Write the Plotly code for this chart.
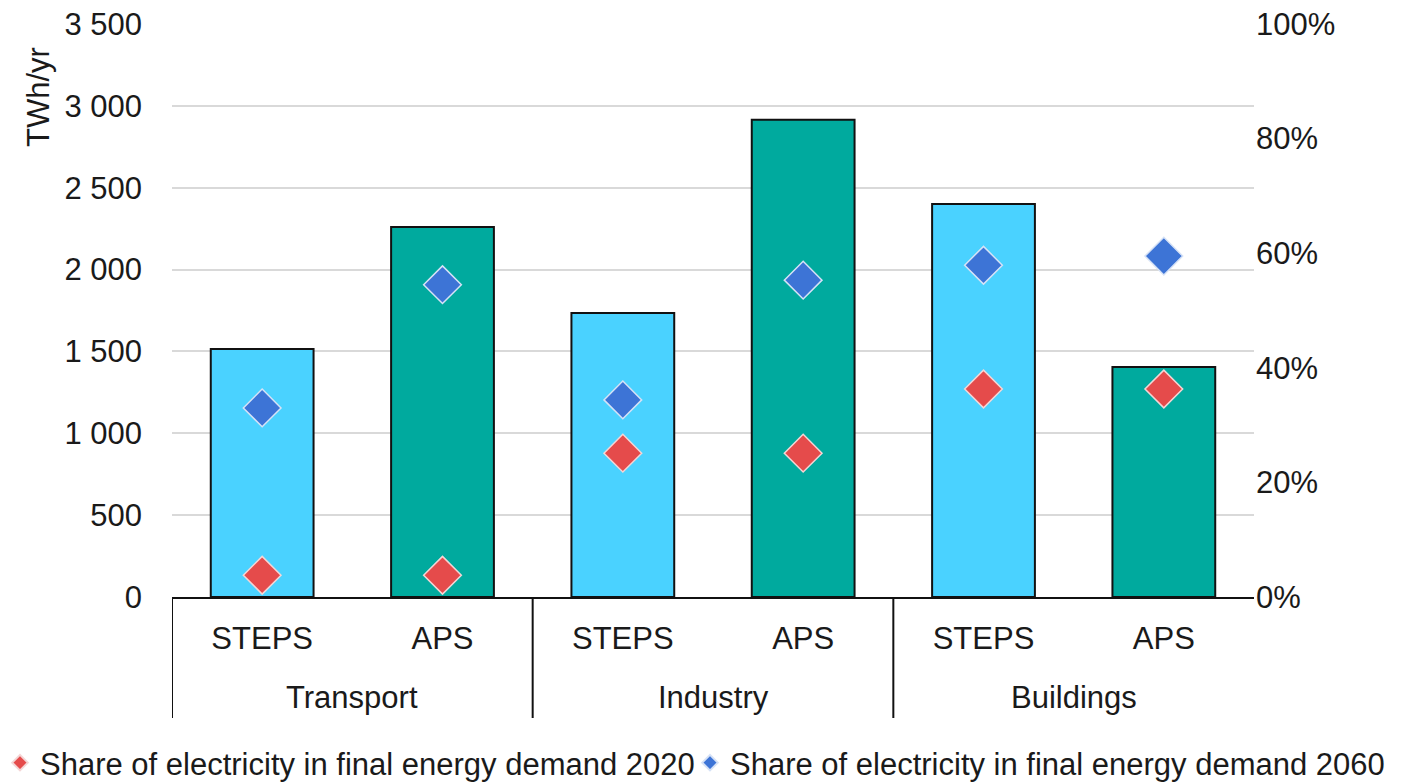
import plotly.graph_objects as go

sectors = ["Transport", "Industry", "Buildings"]
scenarios = ["STEPS", "APS", "STEPS", "APS", "STEPS", "APS"]
demand_twh = [1515, 2260, 1735, 2915, 2400, 1405]
share_2020 = [0.038, 0.038, 0.251, 0.251, 0.363, 0.363]
share_2060 = [0.330, 0.545, 0.344, 0.553, 0.579, 0.595]
left_ticks = [0, 500, 1000, 1500, 2000, 2500, 3000, 3500]
right_ticks = [0, 0.2, 0.4, 0.6, 0.8, 1.0]

pos = list(range(len(scenarios)))
bar_colors = ["#4AD2FF" if s == "STEPS" else "#00AA9E" for s in scenarios]

FONT = "Liberation Sans, Arial, sans-serif"
TXT = "#1a1a1a"
FS = 31
W, H = 1406, 783

# pixel geometry of the plot area
L, R, T, B = 172, 1254, 24, 597
PW, PH = R - L, B - T

def px_x(p):
    return (p - L) / PW

def px_y(p):
    return (B - p) / PH

fig = go.Figure()
fig.add_trace(go.Bar(
    x=pos, y=demand_twh, marker=dict(color=bar_colors, line=dict(color="#111111", width=2)),
    width=0.57, showlegend=False, hoverinfo="y",
))
fig.add_trace(go.Scatter(
    x=pos, y=share_2020, yaxis="y2", mode="markers", legend="legend",
    name="Share of electricity in final energy demand 2020",
    marker=dict(symbol="diamond", size=29, color="#E54B4B", line=dict(color="#F4D6D6", width=1.5)),
))
fig.add_trace(go.Scatter(
    x=pos, y=share_2060, yaxis="y2", mode="markers", legend="legend2",
    name="Share of electricity in final energy demand 2060",
    marker=dict(symbol="diamond", size=29, color="#3D74D6", line=dict(color="#D6E2F6", width=1.5)),
))

for i, sec in enumerate(sectors):
    fig.add_annotation(x=2 * i + 0.5, y=px_y(697), xref="x", yref="paper",
                       text=sec, showarrow=False, font=dict(size=FS, color=TXT, family=FONT),
                       xanchor="center", yanchor="middle")
for xd in [-0.5, 1.5, 3.5]:
    fig.add_shape(type="line", xref="x", yref="paper", x0=xd, x1=xd, y0=0, y1=px_y(718),
                  line=dict(color="#111111", width=2))

fig.add_annotation(x=px_x(38), y=px_y(97), xref="paper", yref="paper",
                   text="TWh/yr", textangle=-90, showarrow=False,
                   font=dict(size=FS, color=TXT, family=FONT), xanchor="center", yanchor="middle")

legend_common = dict(
    orientation="h", xanchor="left", yanchor="middle", xref="container", yref="container",
    y=(H - 763) / H,
    font=dict(size=FS, color=TXT, family=FONT), itemsizing="constant",
    bgcolor="rgba(0,0,0,0)", itemwidth=30,
)

fig.update_layout(
    width=W, height=H,
    margin=dict(l=L, r=W - R, t=T, b=H - B),
    paper_bgcolor="white", plot_bgcolor="white",
    font=dict(family=FONT, size=FS, color=TXT),
    separators=". ",
    xaxis=dict(
        range=[-0.5, 5.5], tickmode="array", tickvals=pos, ticktext=scenarios,
        showgrid=False, zeroline=False, showline=True, linecolor="#111111", linewidth=2,
        ticks="", ticklabelstandoff=13, fixedrange=True, automargin=False,
    ),
    yaxis=dict(
        range=[0, 3500], tickmode="array", tickvals=left_ticks, tickformat=",d",
        showgrid=True, gridcolor="#D9D9D9", gridwidth=2, zeroline=False, showline=False,
        ticks="", ticklabelstandoff=29, automargin=False,
    ),
    yaxis2=dict(
        range=[0, 1], overlaying="y", side="right", tickmode="array", tickvals=right_ticks,
        tickformat=".0%", showgrid=False, zeroline=False, showline=False, ticks="",
        ticklabelstandoff=1, automargin=False,
    ),
    legend=dict(x=0.0, **legend_common),
    legend2=dict(x=(730 - 40) / W, **legend_common),
)

fig.write_html(
    "out.html",
    config={"displayModeBar": False},
    post_script="document.body.style.margin='0';document.body.style.overflow='hidden';",
)
